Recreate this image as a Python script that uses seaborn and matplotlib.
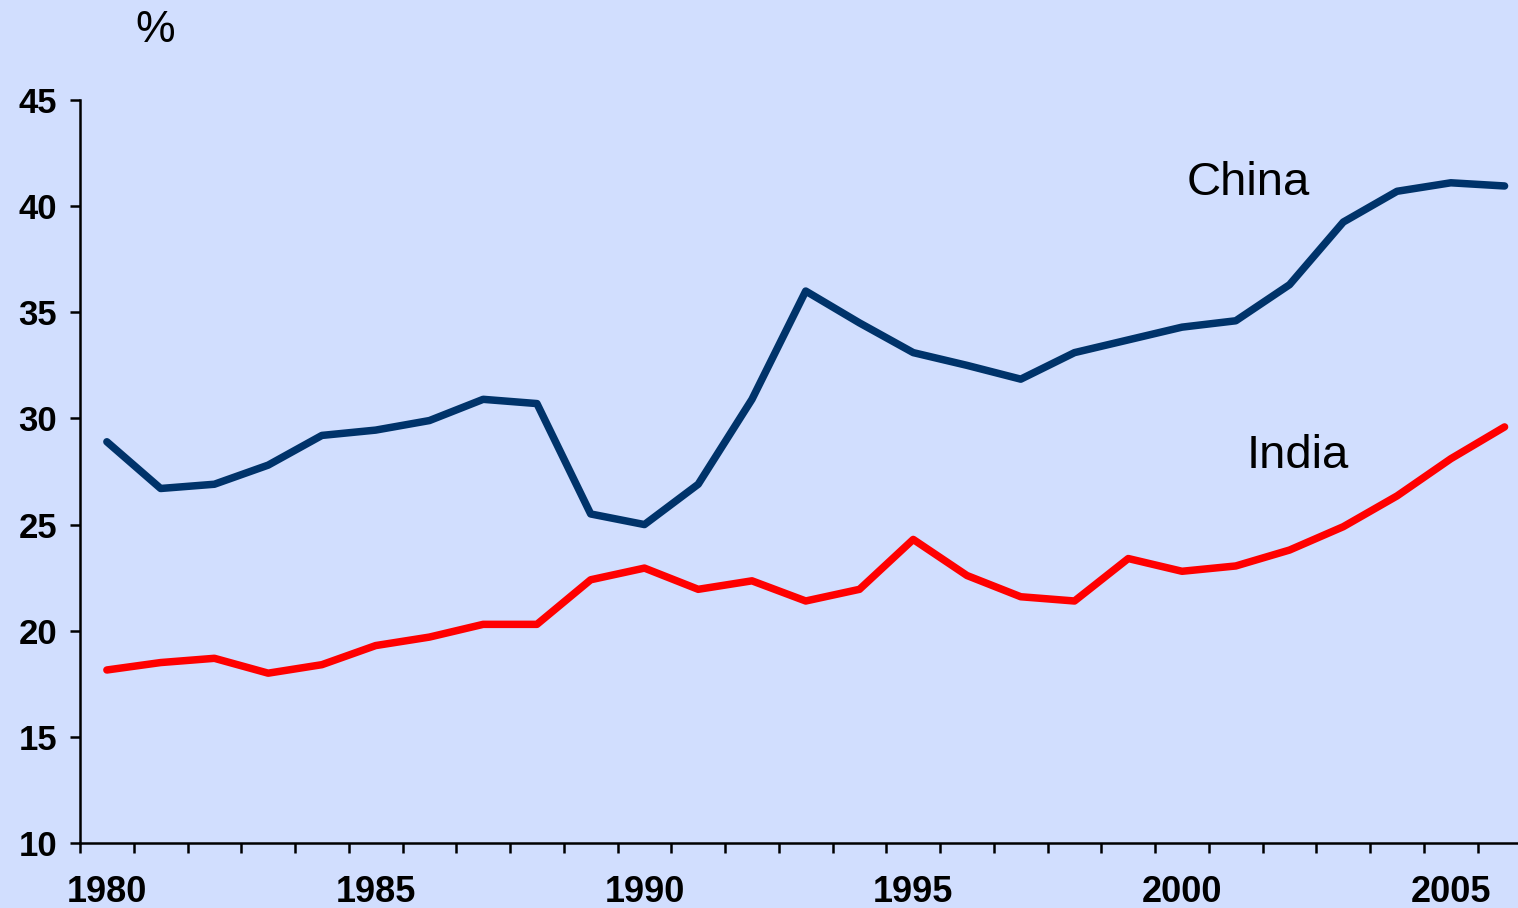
import numpy as np
import pandas as pd
import seaborn as sns
import matplotlib.pyplot as plt
from matplotlib.ticker import MultipleLocator, FixedLocator

years = list(range(1980, 2007))
china = [28.9, 26.7, 26.9, 27.8, 29.2, 29.45, 29.9, 30.9, 30.7, 25.5, 25.0,
         26.9, 30.9, 36.0, 34.5, 33.1, 32.5, 31.85, 33.1, 33.7, 34.3, 34.6,
         36.3, 39.25, 40.7, 41.1, 40.95]
india = [18.15, 18.5, 18.7, 18.0, 18.4, 19.3, 19.7, 20.3, 20.3, 22.4, 22.95,
         21.95, 22.35, 21.4, 21.95, 24.3, 22.6, 21.6, 21.4, 23.4, 22.8, 23.05,
         23.8, 24.9, 26.35, 28.1, 29.6]
year_labels = [1980, 1985, 1990, 1995, 2000, 2005]

bg = '#D1DEFE'
sns.set_style('ticks')
plt.rcParams['font.family'] = ['Liberation Sans Narrow', 'Liberation Sans', 'DejaVu Sans']
plt.rcParams['text.color'] = 'black'
plt.rcParams['xtick.color'] = 'black'
plt.rcParams['ytick.color'] = 'black'

df = pd.DataFrame({'year': years, 'China': china, 'India': india})

fig = plt.figure(figsize=(15.18, 9.08), dpi=100, facecolor=bg)
ax = fig.add_axes([80 / 1518, 65 / 908, 1 - 80 / 1518, 743 / 908])
ax.set_facecolor(bg)

sns.lineplot(data=df, x='year', y='China', color='#00336A', linewidth=5.4, ax=ax)
sns.lineplot(data=df, x='year', y='India', color='#FF0000', linewidth=5.4, ax=ax)

ax.set_xlim(1979.5, 2006.25)
ax.set_ylim(10, 45)
ax.yaxis.set_major_locator(MultipleLocator(5))
ax.xaxis.set_major_locator(FixedLocator(year_labels))
ax.xaxis.set_minor_locator(FixedLocator(np.arange(1979.5, 2007, 1)))
ax.set_xlabel('')
ax.set_ylabel('')

for side in ['top', 'right']:
    ax.spines[side].set_visible(False)
for side in ['left', 'bottom']:
    ax.spines[side].set_linewidth(1.8)
    ax.spines[side].set_color('black')

ax.tick_params(axis='y', which='major', length=7.5, width=1.8, pad=9,
               labelsize=25, direction='out', labelcolor='black')
ax.tick_params(axis='x', which='major', length=0, pad=23, labelsize=26,
               labelcolor='black')
ax.tick_params(axis='x', which='minor', length=7.5, width=1.8, direction='out')
for lab in ax.get_xticklabels() + ax.get_yticklabels():
    lab.set_fontweight('bold')

fig.text(155 / 1518, 1 - 31 / 908, '%', fontsize=32, ha='center', va='center',
         color='black', family=['Liberation Sans', 'DejaVu Sans'])
ax.text(2001.24, 41.1, 'China', fontsize=34, ha='center', va='center',
        color='black', family=['Liberation Sans', 'DejaVu Sans'])
ax.text(2002.15, 28.25, 'India', fontsize=34, ha='center', va='center',
        color='black', family=['Liberation Sans', 'DejaVu Sans'])

fig.savefig('out.png', dpi=100, facecolor=bg)
